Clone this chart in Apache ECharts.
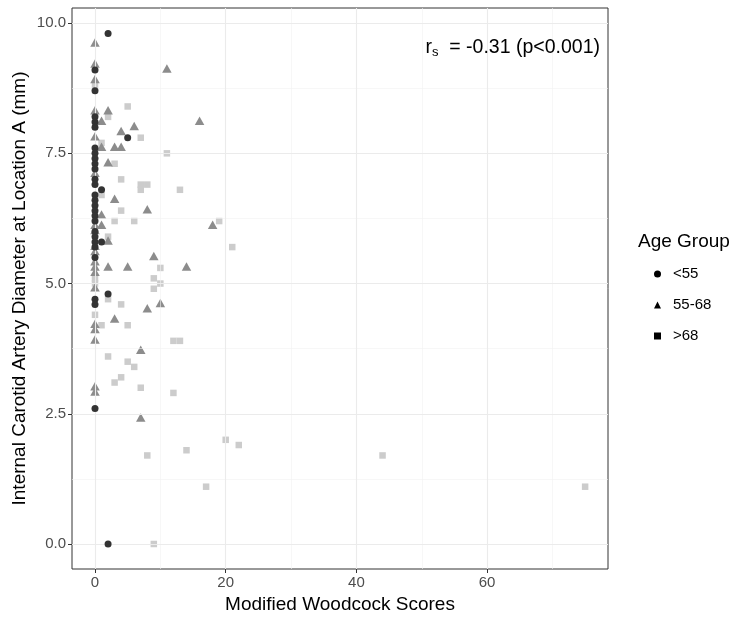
<!DOCTYPE html>
<html><head><meta charset="utf-8">
<script src="https://cdn.jsdelivr.net/npm/echarts@6/dist/echarts.min.js"></script>
<style>html,body{margin:0;padding:0;background:#fff}#c{width:750px;height:625px}</style>
</head><body><div id="c"></div>
<script>
const groupNames = ['<55', '55-68', '>68'];

// [Modified Woodcock score, ICA diameter (mm)]
const under55 = [
  [2,9.8],[0,9.1],[0,8.7],[0,8.2],[0,8.1],[0,8.0],[5,7.8],[0,7.6],[0,7.5],[0,7.4],
  [0,7.3],[0,7.2],[0,7.0],[0,6.9],[1,6.8],[0,6.7],[0,6.6],[0,6.5],[0,6.4],[0,6.3],
  [0,6.2],[0,6.0],[0,5.9],[0,5.8],[1,5.8],[0,5.7],[0,5.5],[2,4.8],[0,4.7],[0,4.6],
  [0,2.6],[2,0.0]
];
const age55to68 = [
  [0,9.6],[0,9.2],[11,9.1],[0,8.9],[0,8.3],[2,8.3],[1,8.1],[16,8.1],[6,8.0],[4,7.9],
  [0,7.8],[1,7.6],[3,7.6],[4,7.6],[2,7.3],[0,7.1],[3,6.6],[8,6.4],[1,6.3],[0,6.1],
  [1,6.1],[18,6.1],[0,6.0],[2,5.8],[0,5.7],[0,5.6],[9,5.5],[0,5.4],[0,5.3],[2,5.3],
  [5,5.3],[14,5.3],[0,5.2],[0,4.9],[10,4.6],[8,4.5],[3,4.3],[0,4.2],[0,4.1],[0,3.9],
  [7,3.7],[0,3.0],[0,2.9],[7,2.4]
];
const over68 = [
  [0,8.8],[5,8.4],[2,8.2],[7,7.8],[1,7.7],[11,7.5],[3,7.3],[4,7.0],[7,6.9],[8,6.9],
  [7,6.8],[13,6.8],[1,6.7],[4,6.4],[3,6.2],[6,6.2],[19,6.2],[2,5.9],[21,5.7],[10,5.3],
  [0,5.1],[9,5.1],[0,5.0],[10,5.0],[9,4.9],[2,4.7],[4,4.6],[0,4.4],[1,4.2],[5,4.2],
  [12,3.9],[13,3.9],[2,3.6],[5,3.5],[6,3.4],[4,3.2],[3,3.1],[7,3.0],[12,2.9],[20,2.0],
  [22,1.9],[14,1.8],[8,1.7],[44,1.7],[17,1.1],[75,1.1],[9,0.0]
];

const xTicks = [0, 20, 40, 60];
const xMinor = [10, 30, 50, 70];
const yTicks = [0, 2.5, 5, 7.5, 10];
const yMinor = [1.25, 3.75, 6.25, 8.75];

const FONT = '"Liberation Sans", Arial, sans-serif';
const chart = echarts.init(document.getElementById('c'), null, {renderer: 'canvas'});

const gridLines = [].concat(
  xMinor.map(v => ({xAxis: v, lineStyle: {color: '#F2F2F2', width: 0.6, type: 'solid'}})),
  yMinor.map(v => ({yAxis: v, lineStyle: {color: '#F2F2F2', width: 0.6, type: 'solid'}})),
  xTicks.map(v => ({xAxis: v, lineStyle: {color: '#EBEBEB', width: 1.1, type: 'solid'}})),
  yTicks.map(v => ({yAxis: v, lineStyle: {color: '#EBEBEB', width: 1.1, type: 'solid'}}))
);

const option = {
  animation: false,
  backgroundColor: '#ffffff',
  grid: {left: 72, right: 142, top: 8, bottom: 56, show: true,
         borderColor: '#333333', borderWidth: 1, backgroundColor: '#ffffff', containLabel: false},
  xAxis: {
    type: 'value', min: -3.52, max: 78.5,
    axisLine: {show: false, onZero: false},
    axisTick: {show: true, length: 4, lineStyle: {color: '#333333', width: 1}, customValues: xTicks},
    axisLabel: {customValues: xTicks, margin: 6, color: '#4D4D4D', fontSize: 15, fontFamily: FONT,
      formatter: v => (xTicks.indexOf(v) >= 0 ? String(v) : '')},
    splitLine: {show: false}, minorSplitLine: {show: false}
  },
  yAxis: {
    type: 'value', min: -0.48, max: 10.29,
    axisLine: {show: false, onZero: false},
    axisTick: {show: true, length: 4, lineStyle: {color: '#333333', width: 1}, customValues: yTicks},
    axisLabel: {customValues: yTicks, margin: 6, color: '#4D4D4D', fontSize: 15, fontFamily: FONT,
      formatter: v => (yTicks.indexOf(v) >= 0 ? v.toFixed(1) : '')},
    splitLine: {show: false}, minorSplitLine: {show: false}
  },
  legend: {
    orient: 'vertical', left: 649, top: 261, itemWidth: 7, itemHeight: 7, itemGap: 15,
    selectedMode: false,
    textStyle: {fontFamily: FONT, fontSize: 15, color: '#000', padding: [0, 0, 0, 7], lineHeight: 16},
    data: [
      {name: groupNames[0], icon: 'circle', itemStyle: {color: '#000'}},
      {name: groupNames[1], icon: 'triangle', itemStyle: {color: '#000'}},
      {name: groupNames[2], icon: 'rect', itemStyle: {color: '#000'}}
    ]
  },
  graphic: [
    {type: 'text', x: 20, y: 288.5, rotation: Math.PI / 2,
     style: {text: 'Internal Carotid Artery Diameter at Location A (mm)', fontSize: 19, fontFamily: FONT,
             fill: '#000', align: 'center', verticalAlign: 'middle'}},
    {type: 'text', x: 340, y: 605,
     style: {text: 'Modified Woodcock Scores', fontSize: 19, fontFamily: FONT,
             fill: '#000', align: 'center', verticalAlign: 'middle'}},
    {type: 'text', x: 638, y: 242,
     style: {text: 'Age Group', fontSize: 19, fontFamily: FONT,
             fill: '#000', align: 'left', verticalAlign: 'middle'}},
    {type: 'text', x: 600, y: 48, z: 10,
     style: {text: '{r|r}{s|s}{t|  = -0.31 (p<0.001)}', align: 'right', verticalAlign: 'middle',
             fill: '#000',
             rich: {
               r: {fontSize: 19.5, fontFamily: FONT, fill: '#000'},
               s: {fontSize: 13, fontFamily: FONT, fill: '#000', padding: [9, 0, 0, 0]},
               t: {fontSize: 19.5, fontFamily: FONT, fill: '#000'}
             }}}
  ],
  series: [
    {type: 'scatter', name: '_grid', data: [], z: 1, silent: true,
     markLine: {silent: true, symbol: 'none', label: {show: false}, animation: false,
                lineStyle: {type: 'solid'}, data: gridLines}},
    {type: 'scatter', name: groupNames[2], data: over68, symbol: 'rect', symbolSize: 6.5, z: 3,
     itemStyle: {color: '#CCCCCC', opacity: 1}},
    {type: 'scatter', name: groupNames[1], data: age55to68, symbol: 'triangle', symbolSize: [9.5, 8.5],
     symbolOffset: [0, -1.4], z: 4, itemStyle: {color: '#8C8C8C', opacity: 1}},
    {type: 'scatter', name: groupNames[0], data: under55, symbol: 'circle', symbolSize: 7, z: 5,
     itemStyle: {color: '#333333', opacity: 1}}
  ]
};
chart.setOption(option);
</script></body></html>
